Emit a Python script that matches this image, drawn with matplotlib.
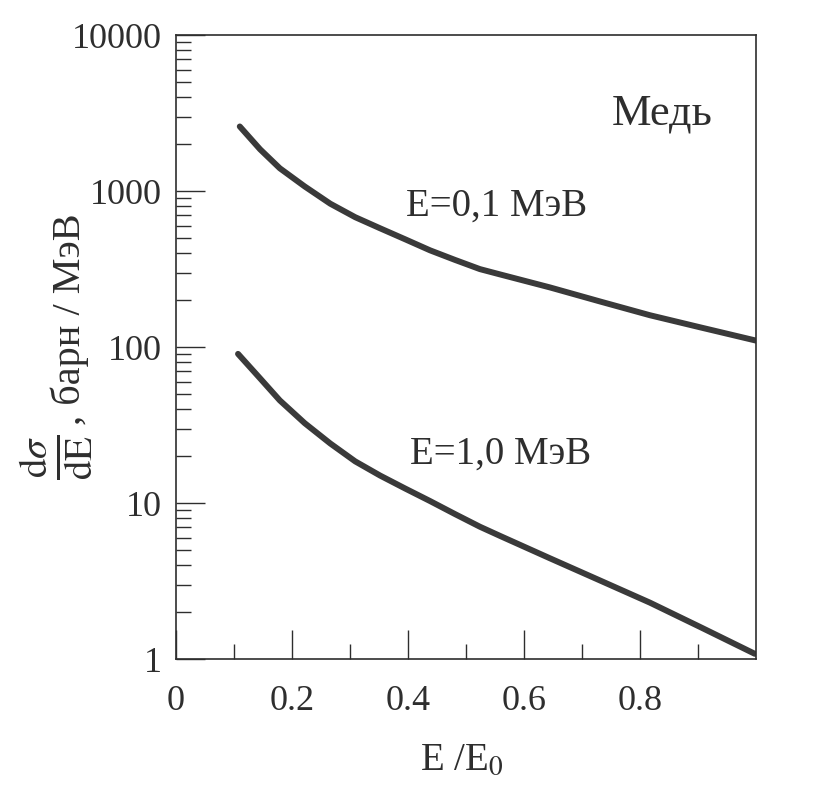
import matplotlib
matplotlib.use('Agg')
import matplotlib.pyplot as plt
from matplotlib.ticker import FixedLocator, LogLocator, NullFormatter

# ===== данные (Медь) =====
x_01 = [0.110, 0.145, 0.179, 0.222, 0.266, 0.309, 0.352, 0.395, 0.438, 0.481,
        0.524, 0.559, 0.645, 0.731, 0.817, 0.903, 1.0]
y_01 = [2594, 1852, 1400, 1070, 830, 680, 577, 491, 417, 362,
        316, 292, 241, 196, 160, 134, 110]          # E=0,1 МэВ

x_10 = [0.107, 0.145, 0.179, 0.222, 0.266, 0.309, 0.352, 0.395, 0.438, 0.481,
        0.524, 0.559, 0.645, 0.731, 0.817, 0.903, 0.998]
y_10 = [90.4, 63.0, 45.5, 32.5, 24.1, 18.5, 15.0, 12.4, 10.3, 8.5,
        7.05, 6.15, 4.42, 3.19, 2.30, 1.61, 1.08]   # E=1,0 МэВ

xticks = [0, 0.2, 0.4, 0.6, 0.8]
xtick_labels = ['0', '0.2', '0.4', '0.6', '0.8']
yticks = [1, 10, 100, 1000, 10000]
ytick_labels = ['1', '10', '100', '1000', '10000']

plt.rcParams['font.family'] = ['Liberation Serif', 'DejaVu Serif']
plt.rcParams['mathtext.fontset'] = 'stix'

ink = '#2e2e2e'

fig = plt.figure(figsize=(8.36, 7.97), dpi=100)
ax = fig.add_axes([0.2105, 0.1731, 0.6938, 0.7829])

for xs, ys in [(x_01, y_01), (x_10, y_10)]:
    ax.plot(xs, ys, color='#3a3a3a', lw=4.3, solid_capstyle='round',
            solid_joinstyle='round')

ax.set_yscale('log')
ax.set_xlim(0, 1.0)
ax.set_ylim(1, 10000)

ax.set_xticks(xticks)
ax.set_xticklabels(xtick_labels)
ax.xaxis.set_minor_locator(FixedLocator([0.1, 0.3, 0.5, 0.7, 0.9]))
ax.set_yticks(yticks)
ax.set_yticklabels(ytick_labels)
ax.yaxis.set_minor_locator(LogLocator(base=10, subs=range(2, 10)))
ax.yaxis.set_minor_formatter(NullFormatter())

ax.tick_params(which='major', direction='in', length=21, width=1.0, color=ink,
               labelsize=26, labelcolor=ink)
ax.tick_params(which='minor', direction='in', length=11, width=1.0, color=ink)
ax.tick_params(axis='x', which='major', pad=19)
ax.tick_params(axis='y', which='major', pad=10)

for s in ax.spines.values():
    s.set_color(ink)
    s.set_linewidth(1.2)

ax.text(0.838, 3150, 'Медь', fontsize=32, color=ink, ha='center', va='center')
ax.text(0.552, 795, 'E=0,1 МэВ', fontsize=28, color=ink, ha='center', va='center')
ax.text(0.559, 20.5, 'E=1,0 МэВ', fontsize=28, color=ink, ha='center', va='center')

fig.text(462 / 836, 0.046, r'E /E$_0$', fontsize=28, color=ink, ha='center', va='center')

# подпись оси y: дробь отдельно, крупнее
fig.text(56 / 836, 1 - 457 / 797, r'$\frac{\mathrm{d}\sigma}{\mathrm{dE}}$',
         fontsize=40, color=ink, rotation=90, ha='center', va='center')
fig.text(70 / 836, 1 - 425 / 797, ', барн / МэВ',
         fontsize=29, color=ink, rotation=90, ha='center', va='bottom')

fig.savefig('out.png', dpi=100, facecolor='white')
